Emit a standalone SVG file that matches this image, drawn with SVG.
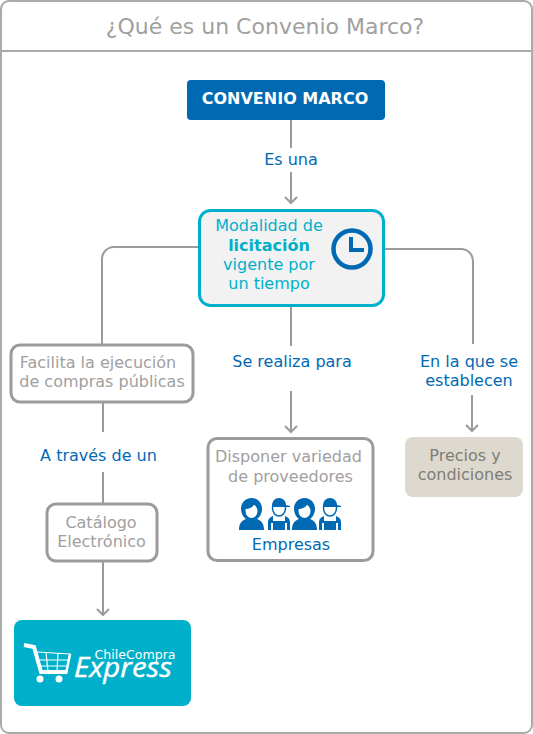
<svg xmlns="http://www.w3.org/2000/svg" width="533" height="734" viewBox="0 0 533 734">
<style>
text{font-family:"DejaVu Sans",Verdana,sans-serif;text-anchor:middle;font-size:16px}
.blue{fill:#0069b4}.gray{fill:#a0a0a0}.teal{fill:#00b0ca}.dark{fill:#7d7d78}
.line{fill:none;stroke:#9b9b9b;stroke-width:2}
.box{fill:#fff;stroke:#9b9b9b;stroke-width:3}
.ppl{fill:#0069b4}
</style>
<defs>
<g id="woman"><path d="M-12.500 16c0-6 2-9 7-11-3-2-5-6-5-10 0-6 4-11 10.500-11s10.500 5 10.500 11c0 4-2 8-5 10 5 2 7 5 7 11z"/><ellipse cx="0" cy="-3" rx="6" ry="7" fill="#fff"/><path d="M-6-5c3 0 8-2 9-5l3 5v-6l-6-3-6 3z"/></g>
<g id="man"><ellipse cx="0" cy="-6" rx="6.500" ry="8" fill="#fff" stroke="#0069b4" stroke-width="1.500"/><path d="M-7-8c0-5 3-8 7-8s7 3 7 7l4 1v1H-7z"/><path d="M-11 16V8c0-3 2-5 5-6v5h12V2c3 1 5 3 5 6v8h-3V9h-2v7H-6V9h-2v7z"/></g>
</defs>
<rect x="1" y="1" width="531" height="732" rx="8" fill="#fff" stroke="#aaa" stroke-width="2"/>
<line x1="1" y1="51" x2="532" y2="51" stroke="#aaa" stroke-width="2"/>
<text x="265" y="34" style="font-size:22px" fill="#a0a0a0">¿Qué es un Convenio Marco?</text>
<g id="connectors">
<path class="line" d="M291 120V148M291 172V203M285 197l6 6 6-6"/>
<path class="line" d="M199 247H114a12 12 0 0 0-12 12V344"/>
<path class="line" d="M385 249H461a12 12 0 0 1 12 12V344"/>
<path class="line" d="M291 306V346M291 391V432M285 426l6 6 6-6"/>
<path class="line" d="M472 395V431M466 425l6 6 6-6"/>
<path class="line" d="M103 403V432M103 472V503"/>
<path class="line" d="M103 562V615M97 609l6 6 6-6"/>
</g>
<g id="n-convenio"><rect x="187" y="80" width="198" height="40" rx="4" fill="#0069b4"/><text x="285" y="104" fill="#fff" font-weight="bold">CONVENIO MARCO</text></g>
<text class="blue" x="291" y="165">Es una</text>
<g id="n-modalidad"><rect x="199.500" y="210.500" width="184" height="95" rx="11" fill="#f2f2f2" stroke="#00b0ca" stroke-width="3"/>
<text class="teal" x="269" y="231">Modalidad de</text><text class="teal" x="269" y="251" font-weight="bold">licitación</text><text class="teal" x="269" y="270">vigente por</text><text class="teal" x="269" y="289">un tiempo</text>
<circle cx="352" cy="249" r="18.500" fill="none" stroke="#0069b4" stroke-width="4.500"/><path d="M351 237v13h13" fill="none" stroke="#0069b4" stroke-width="4"/></g>
<g id="n-facilita"><rect class="box" x="11" y="345" width="182" height="57" rx="9"/><text class="gray" x="98" y="368">Facilita la ejecución</text><text class="gray" x="102" y="387">de compras públicas</text></g>
<text class="blue" x="292" y="367">Se realiza para</text>
<g id="lbl-establecen"><text class="blue" x="469" y="367">En la que se</text><text class="blue" x="469" y="386">establecen</text></g>
<text class="blue" x="98.500" y="461">A través de un</text>
<g id="n-catalogo"><rect class="box" x="47" y="504" width="110" height="57" rx="9"/><text class="gray" x="101" y="528">Catálogo</text><text class="gray" x="101.500" y="547">Electrónico</text></g>
<g id="n-disponer"><rect class="box" x="208" y="438.500" width="165" height="122" rx="9"/><text class="gray" x="288.500" y="462">Disponer variedad</text><text class="gray" x="290.500" y="482">de proveedores</text>
<g class="ppl"><use href="#woman" x="251.500" y="514"/><use href="#man" x="279" y="514"/><use href="#woman" x="304.500" y="514"/><use href="#man" x="330" y="514"/></g>
<text class="blue" x="291" y="550">Empresas</text></g>
<g id="n-precios"><rect x="405" y="437" width="118" height="60" rx="8" fill="#ddd9ce"/><text class="dark" x="465" y="461">Precios y</text><text class="dark" x="465" y="480">condiciones</text></g>
<g id="n-express"><rect x="14" y="620" width="177" height="86" rx="8" fill="#00b0ca"/>
<path d="M37 652l33 2-4 18M38 660h30M39 666h27M46 652l2 20M58 653l-1 19" fill="none" stroke="#fff" stroke-width="1.200"/>
<path d="M24 645l10 2 7 25h26" fill="none" stroke="#fff" stroke-width="4"/>
<path d="M70 654l-4 20" fill="none" stroke="#fff" stroke-width="2.500"/>
<circle cx="40" cy="679" r="3.500" fill="#fff"/><circle cx="59" cy="679" r="3.500" fill="#fff"/>
<text x="135" y="659" fill="#fff" style="font-size:12.600px">ChileCompra</text>
<text x="123" y="677" fill="#fff" font-style="italic" stroke="#fff" stroke-width=".4" style="font-size:28px;font-family:'Open Sans',sans-serif" textLength="98" lengthAdjust="spacingAndGlyphs">Express</text></g>
</svg>
